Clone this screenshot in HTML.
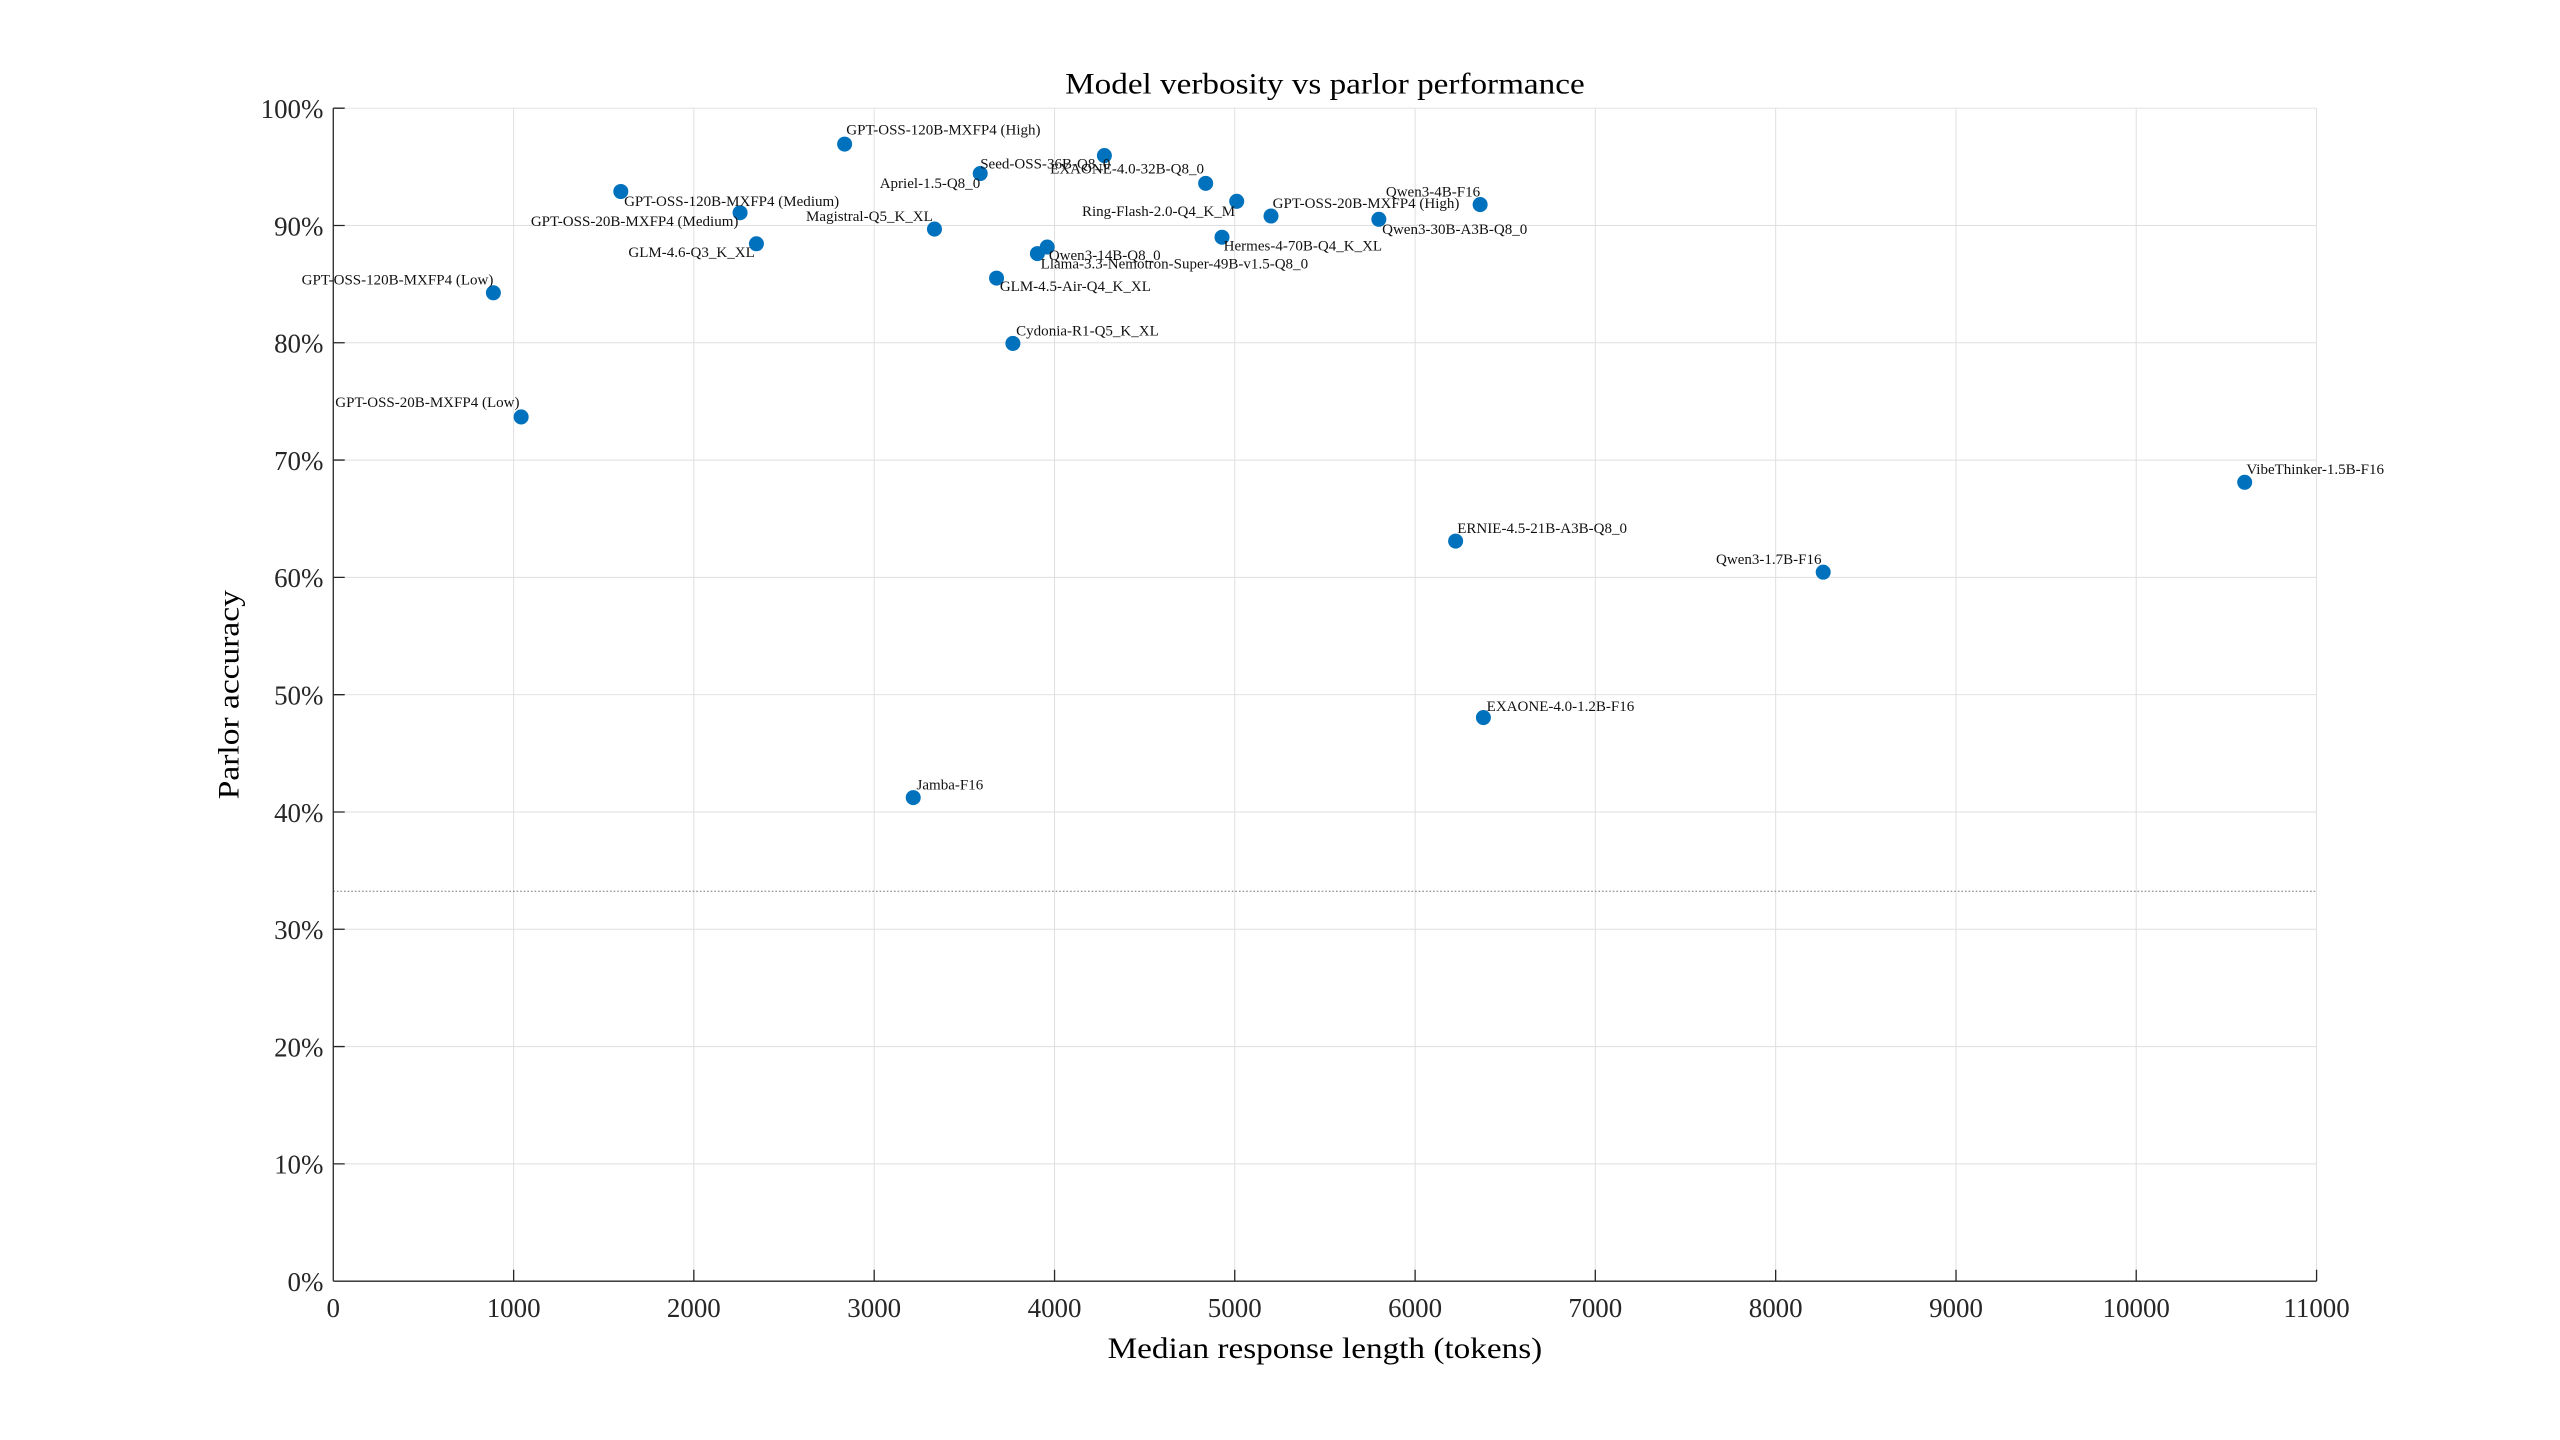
<!DOCTYPE html>
<html><head><meta charset="utf-8"><style>html,body{margin:0;padding:0;background:#fff}svg{display:block}</style></head>
<body>
<svg width="2560" height="1440" viewBox="0 0 1567 881" xmlns="http://www.w3.org/2000/svg" font-family="'Liberation Serif', serif">
<rect width="1567" height="881" fill="#fff"/>
<g stroke="#dfdfdf" stroke-width="0.6">
<line x1="314.4" y1="66" x2="314.4" y2="784"/><line x1="424.7" y1="66" x2="424.7" y2="784"/><line x1="535.1" y1="66" x2="535.1" y2="784"/><line x1="645.5" y1="66" x2="645.5" y2="784"/><line x1="755.8" y1="66" x2="755.8" y2="784"/><line x1="866.2" y1="66" x2="866.2" y2="784"/><line x1="976.5" y1="66" x2="976.5" y2="784"/><line x1="1086.9" y1="66" x2="1086.9" y2="784"/><line x1="1197.3" y1="66" x2="1197.3" y2="784"/><line x1="1307.6" y1="66" x2="1307.6" y2="784"/><line x1="1418" y1="66" x2="1418" y2="784"/>
<line x1="204" y1="66" x2="1418" y2="66"/><line x1="204" y1="137.8" x2="1418" y2="137.8"/><line x1="204" y1="209.6" x2="1418" y2="209.6"/><line x1="204" y1="281.4" x2="1418" y2="281.4"/><line x1="204" y1="353.2" x2="1418" y2="353.2"/><line x1="204" y1="425" x2="1418" y2="425"/><line x1="204" y1="496.8" x2="1418" y2="496.8"/><line x1="204" y1="568.6" x2="1418" y2="568.6"/><line x1="204" y1="640.4" x2="1418" y2="640.4"/><line x1="204" y1="712.2" x2="1418" y2="712.2"/>
</g>
<line x1="204" y1="545.3" x2="1418" y2="545.3" stroke="#777" stroke-width="0.6" stroke-dasharray="1,1.2"/>
<g stroke="#262626" stroke-width="0.8">
<line x1="204" y1="66" x2="204" y2="784"/><line x1="204" y1="784" x2="1418" y2="784"/>
<path d="M314.4 784v-7M424.7 784v-7M535.1 784v-7M645.5 784v-7M755.8 784v-7M866.2 784v-7M976.5 784v-7M1086.9 784v-7M1197.3 784v-7M1307.6 784v-7M1418 784v-7"/>
<path d="M204 66h7M204 137.8h7M204 209.6h7M204 281.4h7M204 353.2h7M204 425h7M204 496.8h7M204 568.6h7M204 640.4h7M204 712.2h7"/>
</g>
<g font-size="16.5" fill="#262626" text-anchor="middle">
<text x="204" y="806">0</text><text x="314.4" y="806">1000</text><text x="424.7" y="806">2000</text><text x="535.1" y="806">3000</text><text x="645.5" y="806">4000</text><text x="755.8" y="806">5000</text><text x="866.2" y="806">6000</text><text x="976.5" y="806">7000</text><text x="1086.9" y="806">8000</text><text x="1197.3" y="806">9000</text><text x="1307.6" y="806">10000</text><text x="1418" y="806">11000</text>
</g>
<g font-size="16.5" fill="#262626" text-anchor="end">
<text x="198" y="72">100%</text><text x="198" y="143.8">90%</text><text x="198" y="215.6">80%</text><text x="198" y="287.4">70%</text><text x="198" y="359.2">60%</text><text x="198" y="431">50%</text><text x="198" y="502.8">40%</text><text x="198" y="574.6">30%</text><text x="198" y="646.4">20%</text><text x="198" y="718.2">10%</text><text x="198" y="790">0%</text>
</g>
<text x="811" y="57" font-size="18" text-anchor="middle" textLength="318" lengthAdjust="spacingAndGlyphs">Model verbosity vs parlor performance</text>
<text x="811" y="831" font-size="18" text-anchor="middle" textLength="266" lengthAdjust="spacingAndGlyphs">Median response length (tokens)</text>
<text transform="translate(146,425) rotate(-90)" font-size="18" text-anchor="middle" textLength="128" lengthAdjust="spacingAndGlyphs">Parlor accuracy</text>
<g fill="#0072bd">
<circle cx="517" cy="88" r="4.6"/><circle cx="600" cy="106" r="4.6"/><circle cx="676" cy="95" r="4.6"/><circle cx="738" cy="112" r="4.6"/><circle cx="757" cy="123" r="4.6"/><circle cx="778" cy="132" r="4.6"/><circle cx="906" cy="125" r="4.6"/><circle cx="844" cy="134" r="4.6"/><circle cx="748" cy="145" r="4.6"/><circle cx="641" cy="151" r="4.6"/><circle cx="635" cy="155" r="4.6"/><circle cx="610" cy="170" r="4.6"/><circle cx="620" cy="210" r="4.6"/><circle cx="572" cy="140" r="4.6"/><circle cx="380" cy="117" r="4.6"/><circle cx="453" cy="130" r="4.6"/><circle cx="463" cy="149" r="4.6"/><circle cx="302" cy="179" r="4.6"/><circle cx="319" cy="255" r="4.6"/><circle cx="559" cy="488" r="4.6"/><circle cx="891" cy="331" r="4.6"/><circle cx="908" cy="439" r="4.6"/><circle cx="1116" cy="350" r="4.6"/><circle cx="1374" cy="295" r="4.6"/>
</g>
<g font-size="9.2" fill="#111">
<text x="518" y="82">GPT-OSS-120B-MXFP4 (High)</text>
<text x="600" y="103">Seed-OSS-36B-Q8_0</text>
<text x="600" y="115" text-anchor="end">Apriel-1.5-Q8_0</text>
<text x="737" y="106" text-anchor="end">EXAONE-4.0-32B-Q8_0</text>
<text x="756" y="132" text-anchor="end">Ring-Flash-2.0-Q4_K_M</text>
<text x="779" y="127">GPT-OSS-20B-MXFP4 (High)</text>
<text x="906" y="120" text-anchor="end">Qwen3-4B-F16</text>
<text x="846" y="143">Qwen3-30B-A3B-Q8_0</text>
<text x="749" y="153">Hermes-4-70B-Q4_K_XL</text>
<text x="642" y="159">Qwen3-14B-Q8_0</text>
<text x="637" y="164">Llama-3.3-Nemotron-Super-49B-v1.5-Q8_0</text>
<text x="612" y="178">GLM-4.5-Air-Q4_K_XL</text>
<text x="622" y="205">Cydonia-R1-Q5_K_XL</text>
<text x="571" y="135" text-anchor="end">Magistral-Q5_K_XL</text>
<text x="382" y="126">GPT-OSS-120B-MXFP4 (Medium)</text>
<text x="452" y="138" text-anchor="end">GPT-OSS-20B-MXFP4 (Medium)</text>
<text x="462" y="157" text-anchor="end">GLM-4.6-Q3_K_XL</text>
<text x="302" y="174" text-anchor="end">GPT-OSS-120B-MXFP4 (Low)</text>
<text x="318" y="249" text-anchor="end">GPT-OSS-20B-MXFP4 (Low)</text>
<text x="561" y="483">Jamba-F16</text>
<text x="892" y="326">ERNIE-4.5-21B-A3B-Q8_0</text>
<text x="910" y="435">EXAONE-4.0-1.2B-F16</text>
<text x="1115" y="345" text-anchor="end">Qwen3-1.7B-F16</text>
<text x="1375" y="290">VibeThinker-1.5B-F16</text>
</g>
</svg>
</body></html>
